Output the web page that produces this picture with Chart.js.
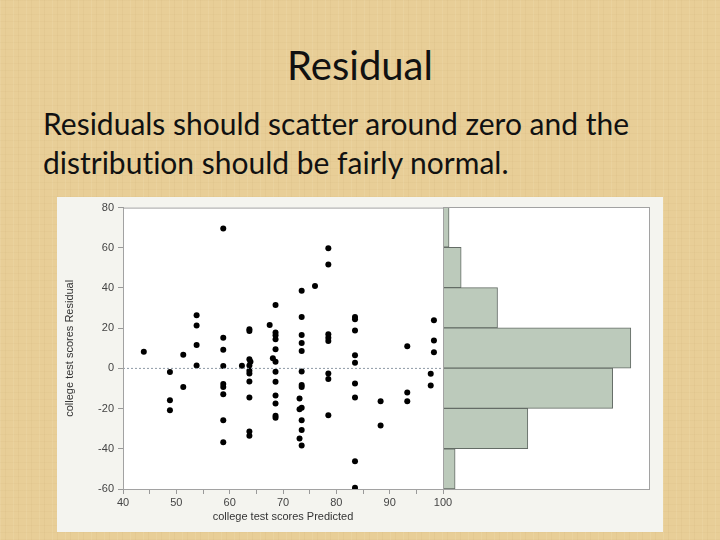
<!DOCTYPE html>
<html>
<head>
<meta charset="utf-8">
<script src="https://cdn.jsdelivr.net/npm/chart.js@4.4.0/dist/chart.umd.min.js"></script>
<style>
html, body { margin: 0; padding: 0; }
body {
    width: 720px; height: 540px; overflow: hidden; position: relative;
    background-color: #e8ce97;
    background-image:
        repeating-linear-gradient(90deg, rgba(255,248,220,0.10) 0 1px, rgba(0,0,0,0) 1px 5px, rgba(150,110,50,0.05) 5px 6px, rgba(0,0,0,0) 6px 13px),
        repeating-linear-gradient(0deg, rgba(150,110,50,0.04) 0 1px, rgba(0,0,0,0) 1px 7px);
}
#title { position: absolute; left: 0; width: 720px; top: 41px; text-align: center; font: 40px Lato, sans-serif; color: #111; }
#text { position: absolute; left: 43px; top: 104px; font: 30px Lato, sans-serif; line-height: 39px; color: #111; font-variant-ligatures: none; }
#panel { position: absolute; left: 57px; top: 197px; width: 606px; height: 335px; background: #f4f4ef; }
#scatterBox { position: absolute; left: 0; top: 0; width: 606px; height: 335px; }
#histBox { position: absolute; left: 386px; top: 0; width: 220px; height: 335px; }
</style>
</head>
<body>
<div id="title">Residual</div>
<div id="text">Residuals should scatter around zero and the<br>distribution should be fairly normal.</div>
<div id="panel">
    <div id="scatterBox"><canvas id="scatter"></canvas></div>
    <div id="histBox"><canvas id="hist"></canvas></div>
</div>
<script>
// predicted score / residual pairs
const predicted = [
    58.8,
    78.5, 78.5, 76.0,
    53.8, 53.8, 67.5, 73.5, 68.6, 73.5, 83.5, 83.5, 98.3,
    43.9, 51.3, 53.8, 58.8, 58.8, 63.7, 63.7, 63.7, 53.8, 58.8, 62.3, 63.7, 83.5, 68.6, 68.6, 68.6,
    73.5, 73.5, 73.5, 78.5, 78.5, 78.5, 68.6, 68.1, 68.6, 63.9, 83.5, 83.5, 93.3, 98.3, 98.3,
    48.8, 51.3, 48.8, 58.8, 58.8, 58.8, 63.7, 63.7, 63.7, 63.7, 68.6, 68.6, 68.6, 68.6,
    73.5, 73.5, 73.5, 73.1, 73.5, 78.5, 78.5, 83.5, 83.5, 88.3, 93.3, 93.3, 97.7, 97.7,
    48.8, 58.8, 58.8, 63.7, 63.7, 68.6, 68.6, 73.1, 73.5, 73.5, 73.1, 73.5, 78.5, 88.3,
    83.5, 83.5
];
const residual = [
    69.6,
    59.8, 51.7, 41.0,
    26.4, 21.4, 21.6, 38.6, 31.6, 25.6, 25.6, 24.4, 23.9,
    8.3, 6.8, 11.6, 15.3, 9.3, 19.5, 18.6, 4.5, 1.5, 1.2, 1.3, 1.5, 18.8, 17.8, 16.5, 14.5,
    16.6, 12.6, 8.6, 17.0, 15.3, 13.6, 9.5, 5.0, 3.3, 3.3, 6.6, 2.8, 11.0, 13.9, 8.0,
    -1.8, -9.2, -15.8, -7.8, -9.2, -12.8, -1.2, -2.5, -6.5, -14.5, -1.7, -6.7, -13.5, -17.5,
    -1.5, -8.3, -9.2, -15.0, -19.6, -2.5, -5.3, -7.5, -14.5, -16.3, -12.0, -16.3, -2.7, -8.5,
    -20.8, -25.8, -36.8, -31.4, -33.5, -23.6, -24.6, -20.3, -25.8, -30.6, -34.9, -38.4, -23.3, -28.4,
    -46.2, -59.4
];

// histogram of residuals, top bin first
const binLabels = ['60 to 80', '40 to 60', '20 to 40', '0 to 20', '-20 to 0', '-40 to -20', '-60 to -40'];
const binCounts = [1, 3, 9, 31, 28, 14, 2];

const zeroLineX = [40, 100];

const axisFont = { family: 'Liberation Sans, Arial, sans-serif', size: 11 };

// white plot area with a grey frame
const framePlugin = {
    id: 'frame',
    beforeDraw(chart) {
        const a = chart.chartArea;
        const c = chart.ctx;
        c.save();
        c.fillStyle = '#ffffff';
        c.fillRect(a.left, a.top, a.right - a.left, a.bottom - a.top);
        c.restore();
    },
    afterDraw(chart) {
        const a = chart.chartArea;
        const c = chart.ctx;
        c.save();
        c.strokeStyle = '#a2a2a2';
        c.lineWidth = 1;
        c.strokeRect(a.left + 0.5, a.top + 0.5, a.right - a.left, a.bottom - a.top);
        c.restore();
    }
};

new Chart(document.getElementById('scatter'), {
    type: 'scatter',
    data: {
        datasets: [{
            type: 'line',
            data: zeroLineX.map(x => ({ x: x, y: 0 })),
            borderColor: '#8e9aa6',
            borderWidth: 1,
            borderDash: [2, 2],
            pointRadius: 0
        }, {
            data: predicted.map((x, i) => ({ x: x, y: residual[i] })),
            backgroundColor: '#000000',
            borderWidth: 0,
            pointRadius: 3
        }]
    },
    options: {
        responsive: true,
        maintainAspectRatio: false,
        animation: false,
        layout: { padding: { top: 10, right: 220, bottom: 8, left: 0 } },
        plugins: { legend: { display: false }, tooltip: { enabled: false } },
        scales: {
            x: {
                type: 'linear', min: 40, max: 100,
                afterFit: s => { s.height = 35; },
                ticks: {
                    stepSize: 5, autoSkip: false, maxRotation: 0, padding: 2,
                    color: '#444', font: axisFont,
                    callback: v => (v % 10 === 0 ? v : '')
                },
                grid: { drawOnChartArea: false, tickLength: 5, color: '#999' },
                border: { color: '#999' },
                title: { display: true, text: 'college test scores Predicted', color: '#333', font: axisFont, padding: 0 }
            },
            y: {
                min: -60, max: 80,
                afterFit: s => { s.width = 66; },
                ticks: { stepSize: 20, padding: 4, color: '#444', font: axisFont },
                grid: { drawOnChartArea: false, tickLength: 5, color: '#999' },
                border: { color: '#999' },
                title: { display: true, text: 'college test scores Residual', color: '#333', font: axisFont, padding: { top: 6, bottom: 0 } }
            }
        }
    },
    plugins: [framePlugin]
});

new Chart(document.getElementById('hist'), {
    type: 'bar',
    data: {
        labels: binLabels,
        datasets: [{
            data: binCounts,
            backgroundColor: '#bccabb',
            borderColor: '#646c66',
            borderWidth: 1,
            categoryPercentage: 1,
            barPercentage: 1
        }]
    },
    options: {
        indexAxis: 'y',
        responsive: true,
        maintainAspectRatio: false,
        animation: false,
        layout: { padding: { top: 10, right: 14, bottom: 43, left: 0 } },
        plugins: { legend: { display: false }, tooltip: { enabled: false } },
        scales: {
            x: { display: false, min: 0, max: 34 },
            y: { display: false }
        }
    },
    plugins: [framePlugin]
});
</script>
</body>
</html>
